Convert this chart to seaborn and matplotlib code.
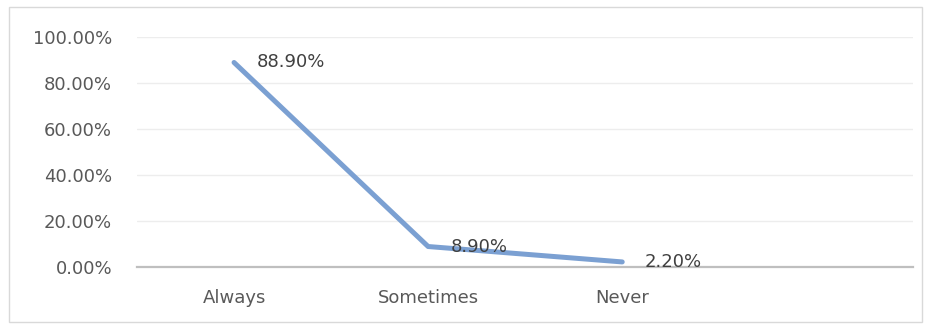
import matplotlib

matplotlib.use("Agg")
import matplotlib.pyplot as plt  # noqa: E402
import pandas as pd  # noqa: E402
import seaborn as sns  # noqa: E402
from matplotlib.patches import Rectangle  # noqa: E402
from matplotlib.ticker import PercentFormatter  # noqa: E402

categories = ["Always", "Sometimes", "Never"]
shares = [0.889, 0.089, 0.022]
yticks = [0.0, 0.2, 0.4, 0.6, 0.8, 1.0]

TEXT = "#595959"
LINE = "#7BA0D2"

sns.set_style("white")
plt.rcParams["font.family"] = ["DejaVu Sans"]

df = pd.DataFrame({"answer": categories, "share": shares})

fig = plt.figure(figsize=(9.32, 3.27), dpi=100)
ax = fig.add_axes([0.147, 0.1835, 0.833, 0.7035])

# outer chart border like the Excel frame
fig.patches.append(Rectangle((0.0097, 0.015), 0.98, 0.965, transform=fig.transFigure,
                             fill=False, edgecolor="#D9D9D9", lw=1))

sns.lineplot(data=df, x="answer", y="share", ax=ax, color=LINE, lw=3.6,
             sort=False, solid_capstyle="round")

for i, v in enumerate(shares):
    ax.annotate(f"{v * 100:.2f}%", (i, v), xytext=(16, 0), textcoords="offset points",
                ha="left", va="center", fontsize=13, color="#404040")

ax.set_xlim(-0.5, 3.5)
ax.set_ylim(0, 1.0)
ax.set_yticks(yticks)
ax.yaxis.set_major_formatter(PercentFormatter(1.0, decimals=2))
ax.set_xticks(range(len(categories)))
ax.set_xticklabels(categories)
ax.tick_params(axis="both", length=0, labelsize=13, labelcolor=TEXT)
ax.tick_params(axis="x", pad=16)
ax.tick_params(axis="y", pad=18)
ax.set_xlabel("")
ax.set_ylabel("")
ax.grid(axis="y", color="#EDEDED", lw=1)
ax.set_axisbelow(True)
for side in ["top", "right", "left"]:
    ax.spines[side].set_visible(False)
ax.spines["bottom"].set_color("#BFBFBF")
ax.spines["bottom"].set_linewidth(1.6)

fig.savefig("out.png", dpi=100)
